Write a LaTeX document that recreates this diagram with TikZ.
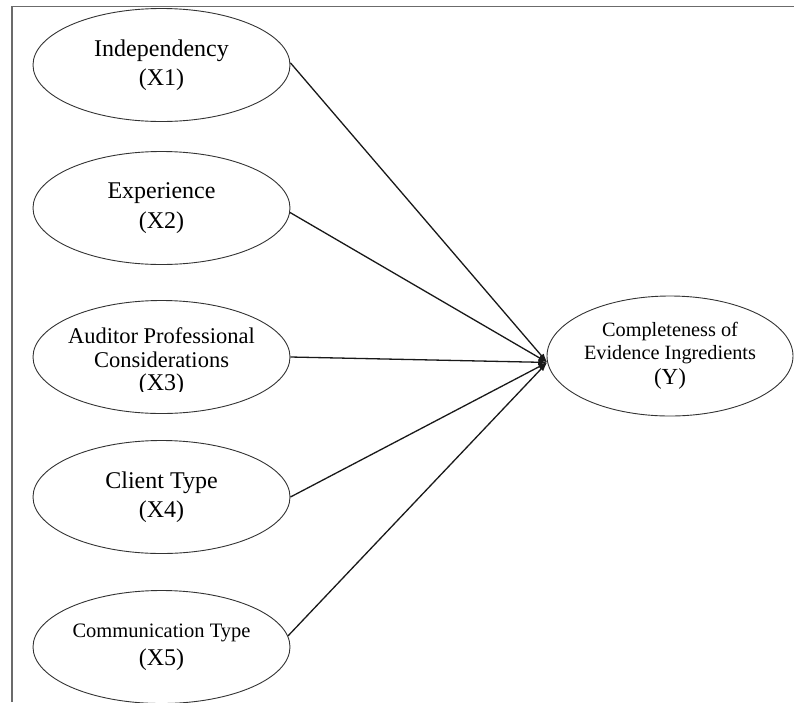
\documentclass[tikz,border=0pt]{standalone}
\usepackage{fontspec}
\setmainfont{Liberation Serif}
\usetikzlibrary{shapes.geometric,arrows.meta}
\begin{document}
\begin{tikzpicture}[x=1pt,y=-1pt,
  frame/.style={draw=black!58, line width=1.6pt},
  var/.style={ellipse, draw=black!80, line width=0.9pt, inner sep=0pt,
    minimum width=257pt, minimum height=113pt, align=center,
    font=\fontsize{24}{29.5}\selectfont},
  lbl/.style={inner sep=0pt, align=center},
  link/.style={draw=black!90, line width=1.3pt, -{Latex[length=9pt,width=6pt]}}]
\useasboundingbox (0,0) rectangle (794,702);
% frame
\coordinate (fa) at (12,702);
\coordinate (fb) at (12,6.5);
\coordinate (fc) at (794,6.5);
\draw[frame] (fa) -- (fb) -- (fc);
% exogenous variables
\node[var] (X1) at (161.5,65) {Independency\\(X1)};
\node[var] (X2) at (161.5,208) {Experience\\(X2)};
\node[var] (X3) at (161.5,357) {};
\begin{scope}
  \clip (20,300) rectangle (300,391);
  \node[lbl, font=\fontsize{22.5}{23.5}\selectfont] (X3t) at (161.5,362)
    {Auditor Professional\\Considerations\\\fontsize{24}{23.5}\selectfont (X3)};
\end{scope}
\node[var] (X4) at (161.5,497) {Client Type\\(X4)};
\node[var, font=\fontsize{24}{28}\selectfont] (X5) at (161.5,647)
  {\fontsize{20.5}{28}\selectfont Communication Type\\
   \fontsize{24}{28}\selectfont (X5)};
% endogenous variable
\node[var, minimum width=246pt, minimum height=120pt,
  font=\fontsize{20.3}{23}\selectfont] (Y) at (670,356)
  {Completeness of\\Evidence Ingredients\\[1.5pt]\fontsize{23}{23}\selectfont (Y)};
% paths
\draw[link] (X1.1.5) -- (Y.183);
\draw[link] (X2.-2) -- (Y.183);
\draw[link] (X3.east) -- (Y.183);
\draw[link] (X4.east) -- (Y.183);
\draw[link] (X5.5) -- (Y.183);
\end{tikzpicture}
\end{document}
